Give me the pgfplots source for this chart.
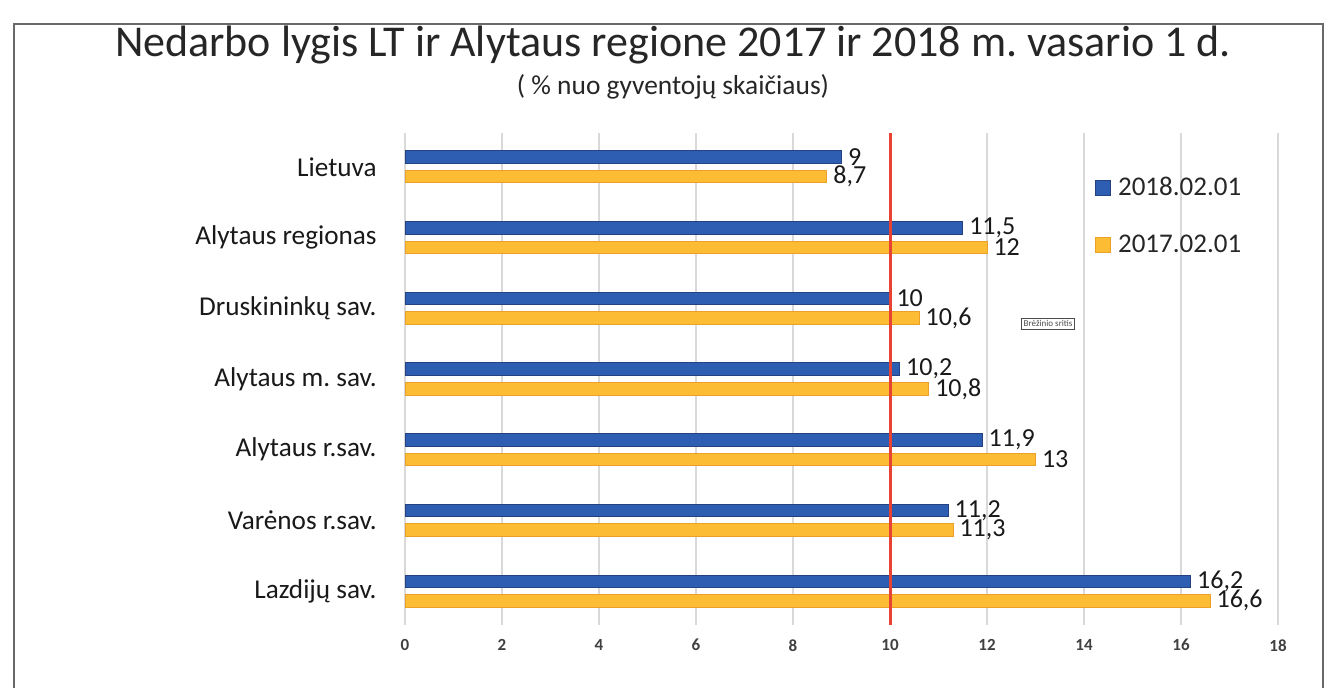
\documentclass[border=0pt]{standalone}
\usepackage{pgfplots}
\pgfplotsset{compat=1.18}
\usepackage{fontspec}
\setmainfont{Carlito}
\frenchspacing
\definecolor{barblue}{RGB}{46,94,178}
\definecolor{barblueedge}{RGB}{36,66,130}
\definecolor{barorange}{RGB}{252,188,52}
\definecolor{barorangeedge}{RGB}{236,160,40}
\definecolor{redline}{RGB}{232,66,50}
\definecolor{gridgray}{RGB}{217,217,217}
\definecolor{framegray}{RGB}{105,105,105}
\begin{document}
\begin{tikzpicture}
\path[use as bounding box] (0,0) rectangle (668pt,344pt);
\draw[framegray, line width=1pt] (7pt,0pt) -- (7pt,332pt) -- (661.5pt,332pt) -- (661.5pt,0pt);
\node[anchor=base, inner sep=0pt, font=\fontsize{22}{26}\selectfont, text=black!85] at (336.5pt,315.5pt)
  {Nedarbo lygis LT ir Alytaus regione 2017 ir 2018 m. vasario 1 d.};
\node[anchor=base, inner sep=0pt, font=\fontsize{13.7}{16}\selectfont, text=black!85] at (336.5pt,296.5pt)
  {( \% nuo gyventojų skaičiaus)};
\begin{axis}[
  at={(202.5pt,31.5pt)}, anchor=south west,
  scale only axis, width=436.5pt, height=246pt,
  xmin=0, xmax=18, ymin=-0.48, ymax=6.48,
  xtick={0,2,...,18},
  ytick={0,1,2,3,4,5,6},
  yticklabels={Lazdijų sav.,Varėnos r.sav.,Alytaus r.sav.,Alytaus m. sav.,Druskininkų sav.,Alytaus regionas,Lietuva},
  xmajorgrids, grid style={gridgray, line width=0.6pt},
  axis line style={draw=none}, tick style={draw=none},
  /pgf/number format/.cd, use comma, assume math mode=true, 1000 sep={},
  /pgfplots/.cd,
  xticklabel style={font=\fontsize{8.5}{10}\selectfont\bfseries, text=black!75, inner sep=0pt, yshift=-7pt},
  yticklabel style={font=\fontsize{13.6}{15}\selectfont, text=black!90, inner sep=0pt, xshift=-14pt},
  legend style={at={(0.79,0.915)}, anchor=north west, draw=none, fill=none, inner sep=0pt,
    row sep=16pt, font=\fontsize{13.5}{16}\selectfont, text=black!85, nodes={inner sep=1pt}},
  legend cell align=left,
  legend image code/.code={\fill[#1] (0pt,-3.75pt) rectangle (7.5pt,3.75pt);},
  nodes near coords style={font=\fontsize{13}{15}\selectfont, text=black!90, anchor=west, inner sep=0pt, xshift=3pt},
]
\addplot[xbar, bar width=6.25pt, bar shift=4.9pt, fill=barblue, draw=barblueedge, line width=0.5pt,
  nodes near coords, every node near coord/.append style={yshift=4.9pt}]
  coordinates {(16.2,0) (11.2,1) (11.9,2) (10.2,3) (10,4) (11.5,5) (9,6)};
\addlegendentry{\hspace{2.5pt}2018.02.01}
\addplot[xbar, bar width=6.25pt, bar shift=-4.9pt, fill=barorange, draw=barorangeedge, line width=0.5pt,
  nodes near coords, every node near coord/.append style={yshift=-4.9pt}]
  coordinates {(16.6,0) (11.3,1) (13,2) (10.8,3) (10.6,4) (12,5) (8.7,6)};
\addlegendentry{\hspace{2.5pt}2017.02.01}
\addplot[redline, line width=1.5pt, forget plot] coordinates {(10,-0.48) (10,6.48)};
\node[draw=black!70, fill=white, inner sep=1pt, font=\fontsize{4.5}{5}\selectfont, text=black!70]
  at (axis cs:13.26,3.78) {Brėžinio sritis};
\end{axis}
\end{tikzpicture}
\end{document}
